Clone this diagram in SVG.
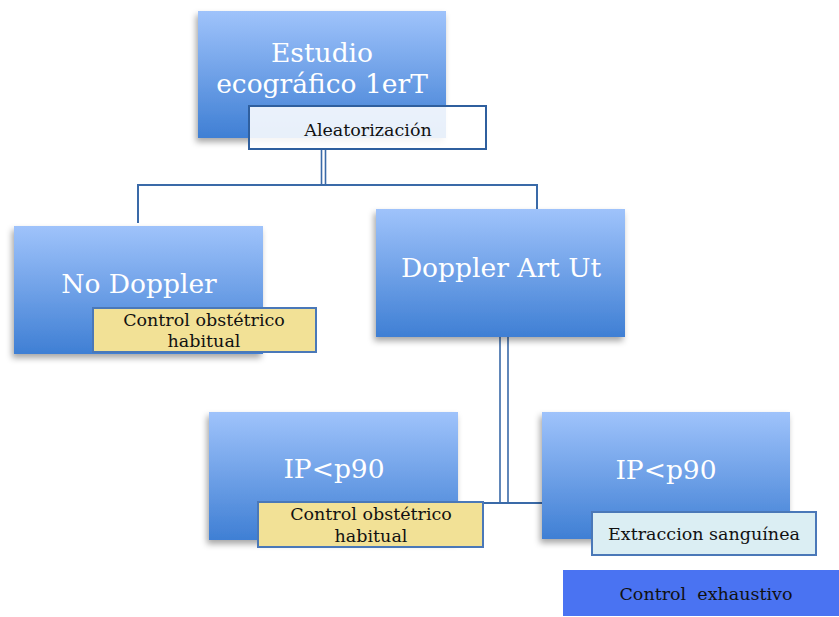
<svg xmlns="http://www.w3.org/2000/svg" width="839" height="617" viewBox="0 0 839 617">
<defs>
<linearGradient id="bg" x1="0" y1="0" x2="0" y2="1">
<stop offset="0" stop-color="#9fc3fb"/>
<stop offset="1" stop-color="#3f7fd4"/>
</linearGradient>
<filter id="sh" x="-10%" y="-10%" width="120%" height="130%">
<feDropShadow dx="-2" dy="4" stdDeviation="3" flood-color="#000" flood-opacity="0.35"/>
</filter>
<style>
.box{fill:url(#bg);filter:url(#sh)}
.big{font-family:"DejaVu Serif","Liberation Serif",serif;font-size:26.5px;fill:#fff;text-anchor:middle}
.lbl{font-family:"DejaVu Serif","Liberation Serif",serif;font-size:17.5px;fill:#111;text-anchor:middle}
.yel{fill:#f2e196;stroke:#4a78b8;stroke-width:2}
.wht{fill:#ffffff;fill-opacity:0.88;stroke:#2f5f9e;stroke-width:2}
.cyan{fill:#dbeef3;stroke:#4a78b8;stroke-width:2}
.con{stroke:#3a6aa8;stroke-width:2;fill:none}
.dbl{stroke:#3a6aa8;stroke-width:1.6;fill:none}
</style>
</defs>
<g id="connectors">
<path class="con" d="M138 223 V185 H537 V209"/>
<line class="dbl" x1="321.5" y1="149" x2="321.5" y2="185"/>
<line class="dbl" x1="325.5" y1="149" x2="325.5" y2="185"/>
<line class="dbl" x1="500" y1="337" x2="500" y2="503"/>
<line class="dbl" x1="508" y1="337" x2="508" y2="503"/>
<line class="con" x1="482" y1="503" x2="542" y2="503"/>
</g>
<g id="n-estudio">
<rect class="box" x="198" y="11" width="248" height="127"/>
<text class="big" x="322" y="62">Estudio</text>
<text class="big" x="322" y="93">ecográfico 1erT</text>
</g>
<g id="n-aleatorizacion">
<rect class="wht" x="249" y="106" width="237" height="43"/>
<text class="lbl" x="368" y="136">Aleatorización</text>
</g>
<g id="n-nodoppler">
<rect class="box" x="14" y="226" width="249" height="128"/>
<text class="big" x="139" y="293">No Doppler</text>
</g>
<g id="n-control1">
<rect class="yel" x="93" y="308" width="223" height="44"/>
<text class="lbl" x="204" y="326">Control obstétrico</text>
<text class="lbl" x="204" y="347">habitual</text>
</g>
<g id="n-doppler">
<rect class="box" x="376" y="209" width="249" height="128"/>
<text class="big" x="501" y="277">Doppler Art Ut</text>
</g>
<g id="n-ip1">
<rect class="box" x="209" y="412" width="249" height="128"/>
<text class="big" x="334" y="478">IP&lt;p90</text>
</g>
<g id="n-control2">
<rect class="yel" x="258" y="502" width="225" height="45"/>
<text class="lbl" x="371" y="520">Control obstétrico</text>
<text class="lbl" x="371" y="542">habitual</text>
</g>
<g id="n-ip2">
<rect class="box" x="542" y="412" width="248" height="127"/>
<text class="big" x="666" y="479">IP&lt;p90</text>
</g>
<g id="n-extraccion">
<rect class="cyan" x="592" y="512" width="224" height="43"/>
<text class="lbl" x="704" y="540">Extraccion sanguínea</text>
</g>
<g id="n-exhaustivo">
<rect x="563" y="570" width="276" height="46" fill="#4a73f2"/>
<text class="lbl" x="706" y="600">Control&#160; exhaustivo</text>
</g>
</svg>
